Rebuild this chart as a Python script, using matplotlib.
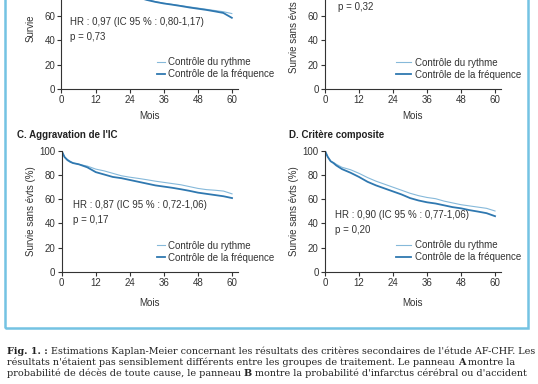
import matplotlib
matplotlib.use("Agg")
from matplotlib import pyplot as plt
from matplotlib.patches import Rectangle

plt.rcParams['font.family'] = ['Liberation Sans', 'DejaVu Sans']

# Kaplan-Meier curves (survival in %)
months = [0, 1, 2, 3, 4, 6, 9, 12, 15, 18, 21, 24, 27, 30, 33, 36, 39, 42, 45, 48, 51, 54, 57, 60]

a_rhythm = [100, 98.5, 97, 96, 95, 93, 90, 87, 84.5, 82, 79.5, 77.5, 75.5, 73.5, 71.8, 70.5, 69.5, 68.5, 67.5, 66.5, 65.5, 64.5, 63.5, 62]
a_rate = [100, 98.5, 97, 96, 95, 93, 90, 87, 84.5, 82, 79.5, 77.5, 75.3, 73.2, 71.6, 70.3, 69.3, 68.2, 67.0, 66.0, 65.0, 63.8, 62.5, 58.5]

c_rhythm = [100, 95, 93, 91.5, 90, 89, 87.5, 85, 83.5, 81.5, 79.5, 78.3, 77.3, 76.2, 75, 74, 73, 72, 70.5, 69, 68, 67.5, 66.8, 64.5]
c_rate = [100, 95, 92.5, 91, 90, 89, 86.5, 82.5, 80.5, 78.5, 77.5, 76, 74.5, 73, 71.5, 70.5, 69.5, 68.3, 67, 65.5, 64.5, 63.5, 62.5, 61]

d_rhythm = [100, 95, 91.5, 90.5, 89, 86.5, 84.5, 81.5, 78, 75, 72.5, 70, 67.5, 65, 63, 61.5, 60.5, 58.5, 57, 55.5, 54.5, 53.5, 52.5, 50.3]
d_rate = [100, 95, 91.5, 90, 88, 85, 82, 78.5, 74.5, 71.5, 69, 66.5, 64, 61, 59, 57.5, 56.5, 55, 53.5, 52.5, 51, 49.8, 48.5, 46]

labels = ["Contrôle du rythme", "Contrôle de la fréquence"]
x_ticks = [0, 12, 24, 36, 48, 60]
y_ticks = [0, 20, 40, 60, 80, 100]

light = "#86b9da"
dark = "#2f78b0"
grey = "#333333"

W, H = 538, 384
fig = plt.figure(figsize=(W / 100, H / 100), dpi=100)


def add_panel(left, top, width, height):
    ax = fig.add_axes([left / W, 1 - (top + height) / H, width / W, height / H])
    ax.set_xlim(0, 62)
    ax.set_ylim(0, 100)
    ax.set_xticks(x_ticks)
    ax.set_yticks(y_ticks)
    ax.spines[['top', 'right']].set_visible(False)
    for s in ['left', 'bottom']:
        ax.spines[s].set_color(grey)
        ax.spines[s].set_linewidth(0.8)
    ax.tick_params(length=3, width=0.8, color=grey, labelsize=7,
                   labelcolor=grey, pad=1.5)
    ax.patch.set_alpha(0)
    return ax


def stats(ax, x, y, hr, p):
    if hr:
        ax.text(x, y, hr, fontsize=7, color=grey, va='center')
    ax.text(x, y - 12.3, p, fontsize=7, color=grey, va='center')


def legend(ax, x, y, hlen, pad):
    ax.legend(labels, loc='center left', bbox_to_anchor=(x, y), frameon=False,
              fontsize=7, borderpad=0, borderaxespad=0, handlelength=hlen,
              handletextpad=pad, labelspacing=0.2, labelcolor=grey)


# panel A (cut at the top)
axA = add_panel(61.5, -32.7, 176, 121.7)
axA.plot(months, a_rhythm, color=light, lw=0.8)
axA.plot(months, a_rate, color=dark, lw=1.3)
axA.set_xlabel("Mois", fontsize=7, color=grey)
axA.xaxis.set_label_coords(0.5, -0.18)
axA.set_ylabel("Survie", fontsize=7, color=grey)
axA.yaxis.set_label_coords(-0.15, 0.5)
stats(axA, 3.0, 55.3, "HR : 0,97 (IC 95 % : 0,80-1,17)", "p = 0,73")
legend(axA, 0.54, 0.17, 0.9, 0.3)

# panel B (curves are above the crop)
axB = add_panel(325, -32.7, 175.7, 121.7)
axB.plot([], [], color=light, lw=0.8)
axB.plot([], [], color=dark, lw=1.3)
axB.set_xlabel("Mois", fontsize=7, color=grey)
axB.xaxis.set_label_coords(0.5, -0.18)
axB.set_ylabel("Survie sans évts (%)", fontsize=7, color=grey)
axB.yaxis.set_label_coords(-0.15, 0.5)
stats(axB, 4.6, 67.5 + 12.3, None, "p = 0,32")
legend(axB, 0.403, 0.167, 1.6, 0.4)

# panel C
axC = add_panel(61.7, 151, 176, 120.7)
axC.plot(months, c_rhythm, color=light, lw=0.8)
axC.plot(months, c_rate, color=dark, lw=1.3)
axC.set_xlabel("Mois", fontsize=7, color=grey)
axC.xaxis.set_label_coords(0.5, -0.22)
axC.set_ylabel("Survie sans évts (%)", fontsize=7, color=grey)
axC.yaxis.set_label_coords(-0.145, 0.5)
stats(axC, 4.1, 55.3, "HR : 0,87 (IC 95 % : 0,72-1,06)", "p = 0,17")
legend(axC, 0.54, 0.165, 0.9, 0.3)
fig.text(17 / W, 1 - 135 / H, "C. Aggravation de l'IC", fontsize=7,
         fontweight='bold', color='#222222', va='center')

# panel D
axD = add_panel(325, 151, 175.7, 120.7)
axD.plot(months, d_rhythm, color=light, lw=0.8)
axD.plot(months, d_rate, color=dark, lw=1.3)
axD.set_xlabel("Mois", fontsize=7, color=grey)
axD.xaxis.set_label_coords(0.5, -0.22)
axD.set_ylabel("Survie sans évts (%)", fontsize=7, color=grey)
axD.yaxis.set_label_coords(-0.15, 0.5)
stats(axD, 3.6, 47, "HR : 0,90 (IC 95 % : 0,77-1,06)", "p = 0,20")
legend(axD, 0.403, 0.172, 1.6, 0.4)
fig.text(289 / W, 1 - 135 / H, "D. Critère composite", fontsize=7,
         fontweight='bold', color='#222222', va='center')

# blue frame around the figure
fig.add_artist(Rectangle((5 / W, 1 - 328 / H), 523 / W, 340 / H,
                         transform=fig.transFigure, fill=False,
                         edgecolor="#74c3e3", linewidth=1.8))

# caption
cap_lines = [
    [("Fig. 1. : ", 'bold'), ("Estimations Kaplan-Meier concernant les résultats des critères secondaires de l'étude AF-CHF. Les", 'normal')],
    [("résultats n'étaient pas sensiblement différents entre les groupes de traitement. Le panneau ", 'normal'), ("A", 'bold'), (" montre la", 'normal')],
    [("probabilité de décès de toute cause, le panneau ", 'normal'), ("B", 'bold'), (" montre la probabilité d'infarctus cérébral ou d'accident", 'normal')],
]
cap_y = [351.5, 362.5, 373.5]

for segs, y in zip(cap_lines, cap_y):
    prev = None
    for txt, wt in segs:
        kw = dict(fontsize=6.9, fontweight=wt, color='#222222',
                  family='DejaVu Serif', va='bottom', ha='left')
        if prev is None:
            prev = fig.text(7 / W, 1 - (y + 4.5) / H, txt, **kw)
        else:
            prev = fig.add_artist(matplotlib.text.Annotation(
                txt, xy=(1, 0), xycoords=prev, annotation_clip=False, **kw))

fig.savefig("out.png", dpi=100)
